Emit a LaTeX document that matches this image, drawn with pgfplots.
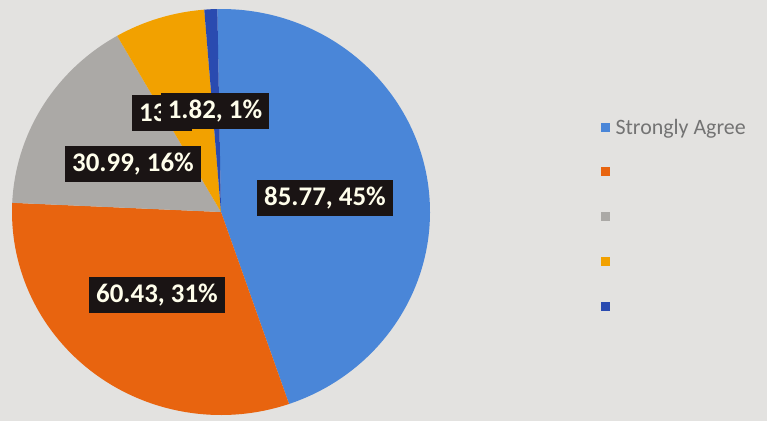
\documentclass[border=0pt]{standalone}
\usepackage{pgfplots}
\usepackage{pgfplotstable}
\pgfplotsset{compat=1.18}
\usepackage{fontspec}
\setmainfont{Carlito}
\definecolor{bg}{HTML}{E3E2E0}
\definecolor{cA}{HTML}{4A86D8}
\definecolor{cB}{HTML}{E8640F}
\definecolor{cC}{HTML}{ABA9A6}
\definecolor{cD}{HTML}{F2A100}
\definecolor{cE}{HTML}{2A4BB0}
\definecolor{lbl}{HTML}{1A1414}
\pgfplotstableread{
value pct
85.77 45
60.43 31
30.99 16
13.50 7
1.82 1
}\piedata
\begin{document}
\begin{tikzpicture}
\pgfplotstablegetelem{0}{pct}\of\piedata \pgfmathsetmacro\aB{91-3.6*\pgfplotsretval}
\pgfplotstablegetelem{1}{pct}\of\piedata \pgfmathsetmacro\aC{\aB-3.6*\pgfplotsretval}
\pgfplotstablegetelem{2}{pct}\of\piedata \pgfmathsetmacro\aD{\aC-3.6*\pgfplotsretval}
\pgfplotstablegetelem{3}{pct}\of\piedata \pgfmathsetmacro\aE{\aD-3.6*\pgfplotsretval}
\pgfplotstablegetelem{4}{pct}\of\piedata \pgfmathsetmacro\aF{\aE-3.6*\pgfplotsretval}
\def\aA{91}
\begin{axis}[
  width=767bp, height=421bp, scale only axis,
  xmin=0, xmax=767, ymin=0, ymax=421,
  hide axis, clip=false,
  legend style={draw=none, fill=none, at={(axis cs:598,306)}, anchor=north west,
    font=\fontsize{22}{26}\selectfont, text=black!55, row sep=21.5bp,
    nodes={inner sep=2bp}},
  legend cell align=left,
  legend image code/.code={},
]
\fill[bg] (axis cs:0,0) rectangle (axis cs:767,421);
\addlegendimage{legend image code/.code={\fill[cA] (0bp,-4bp) rectangle (8bp,4bp);}}
\addlegendimage{legend image code/.code={\fill[cB] (0bp,-4bp) rectangle (8bp,4bp);}}
\addlegendimage{legend image code/.code={\fill[cC] (0bp,-4bp) rectangle (8bp,4bp);}}
\addlegendimage{legend image code/.code={\fill[cD] (0bp,-4bp) rectangle (8bp,4bp);}}
\addlegendimage{legend image code/.code={\fill[cE] (0bp,-4bp) rectangle (8bp,4bp);}}
\legend{\hspace{4bp}Strongly Agree,\strut,\strut,\strut,\strut}
\fill[cA] (axis cs:221,209) -- ++(\aA:209bp and 203bp) arc[start angle=\aA, end angle=\aB, x radius=209bp, y radius=203bp] -- cycle;
\fill[cB] (axis cs:221,209) -- ++(\aB:209bp and 203bp) arc[start angle=\aB, end angle=\aC, x radius=209bp, y radius=203bp] -- cycle;
\fill[cC] (axis cs:221,209) -- ++(\aC:209bp and 203bp) arc[start angle=\aC, end angle=\aD, x radius=209bp, y radius=203bp] -- cycle;
\fill[cD] (axis cs:221,209) -- ++(\aD:209bp and 203bp) arc[start angle=\aD, end angle=\aE, x radius=209bp, y radius=203bp] -- cycle;
\fill[cE] (axis cs:221,209) -- ++(\aE:209bp and 203bp) arc[start angle=\aE, end angle=\aF, x radius=209bp, y radius=203bp] -- cycle;
\tikzset{lab/.style={fill=lbl, text=white!92!yellow, font=\bfseries\fontsize{27}{30}\selectfont, inner xsep=7bp, inner ysep=0bp, minimum height=36bp}}
\node[lab] at (axis cs:325,223) {85.77, 45\%};
\node[lab] at (axis cs:157,126) {60.43, 31\%};
\node[lab] at (axis cs:133,257) {30.99, 16\%};
\node[lab, anchor=west, minimum width=60bp, align=left, text width=46bp] at (axis cs:132,308) {13};
\node[lab] at (axis cs:215,310) {1.82, 1\%};
\end{axis}
\end{tikzpicture}
\end{document}
